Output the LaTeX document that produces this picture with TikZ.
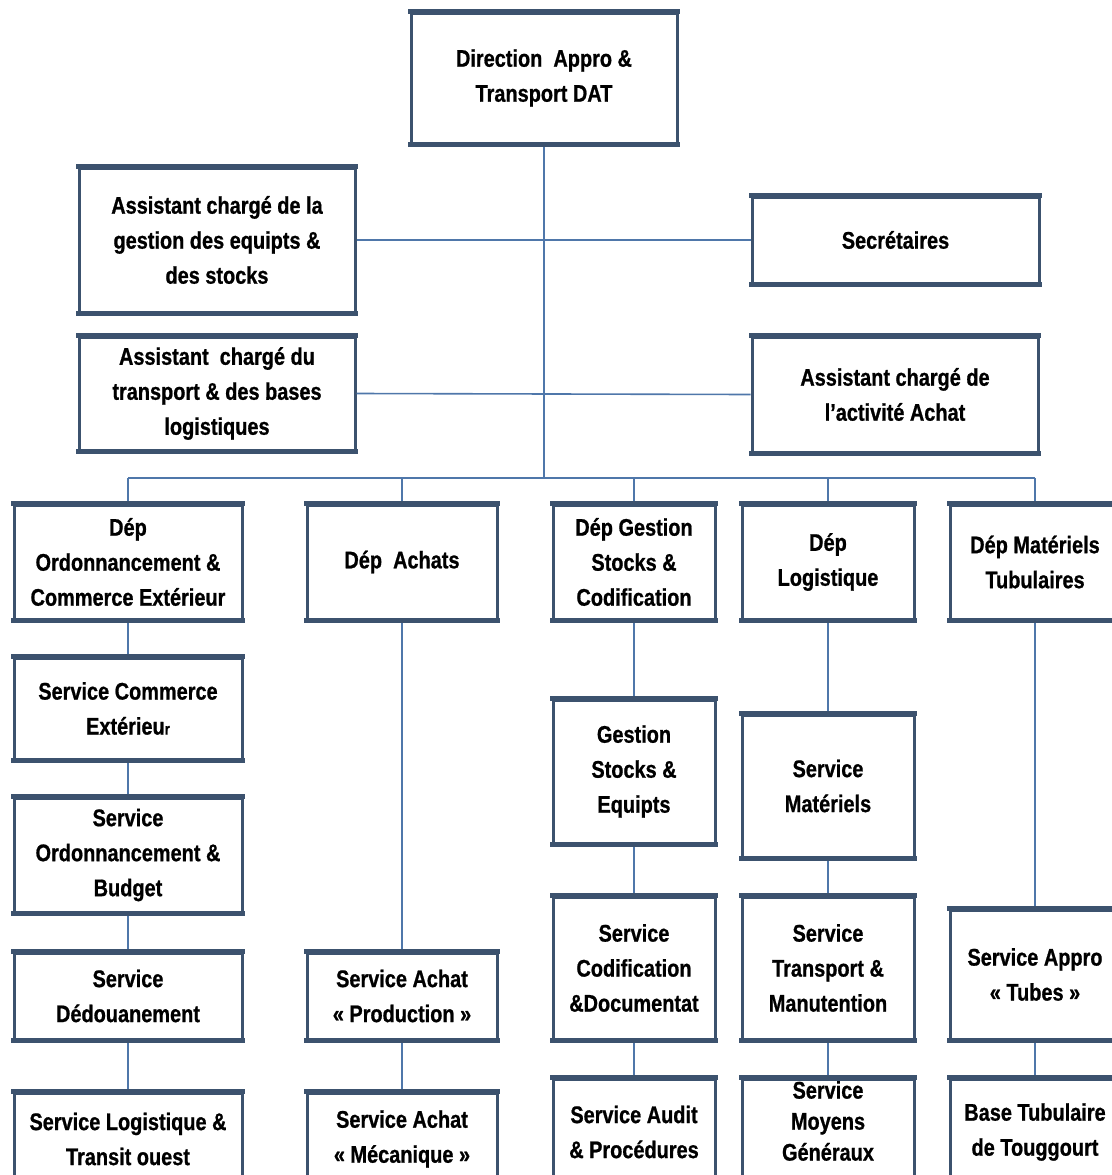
\documentclass[tikz,border=0pt]{standalone}
\usepackage{fontspec}
\setmainfont[FakeStretch=0.83,BoldFeatures={FakeBold=0.8}]{Liberation Sans}
\definecolor{boxc}{RGB}{60,82,110}
\definecolor{linec}{RGB}{79,119,170}
\begin{document}
\begin{tikzpicture}[x=1pt,y=-1pt,
  box/.style={draw=boxc, line width=3pt, fill=white, inner sep=2pt, align=center,
    font=\bfseries\fontsize{24}{35}\selectfont},
  txt/.style={inner sep=0pt, align=center, font=\bfseries\fontsize{24}{31}\selectfont},
  conn/.style={draw=linec, line width=1.6pt}]
\useasboundingbox (0,0) rectangle (1111,1175);
\coordinate (bus) at (544,478);
\coordinate (busL) at (128,478);
\coordinate (busR) at (1035,478);
% top level
\node[box, minimum width=266, minimum height=130] (top) at (544,78) {Direction \ Appro \&\\Transport DAT};
\node[box, minimum width=276, minimum height=144] (a1) at (217,240) {Assistant chargé de la\\gestion des equipts \&\\des stocks};
\node[box, minimum width=287, minimum height=86] (sec) at (895.5,240) {Secrétaires};
\node[box, minimum width=276, minimum height=113] (a2) at (217,393.5) {Assistant \ chargé du\\transport \& des bases\\logistiques};
\node[box, minimum width=286, minimum height=115] (aa) at (895,394.5) {Assistant chargé de\\l’activité Achat};
% departments
\node[box, minimum width=228, minimum height=114] (d1) at (128,562) {Dép\\Ordonnancement \&\\Commerce Extérieur};
\node[box, minimum width=190, minimum height=114] (d2) at (402,562) {Dép \ Achats};
\node[box, minimum width=162, minimum height=114] (d3) at (634,562) {Dép Gestion\\Stocks \&\\Codification};
\node[box, minimum width=172, minimum height=114] (d4) at (828,562) {Dép\\Logistique};
\node[box, minimum width=170, minimum height=114] (d5) at (1035,562) {Dép Matériels\\Tubulaires};
% column 1
\node[box, minimum width=228, minimum height=101] (s11) at (128,708.5) {Service Commerce\\Extérieu{\fontsize{16}{35}\selectfont r}};
\node[box, minimum width=228, minimum height=114] (s12) at (128,855) {Service\\Ordonnancement \&\\Budget};
\node[box, minimum width=228, minimum height=86] (s13) at (128,996) {Service\\Dédouanement};
\node[box, minimum width=228, minimum height=92] (s14) at (128,1139) {Service Logistique \&\\Transit ouest};
% column 2
\node[box, minimum width=190, minimum height=86] (s21) at (402,996) {Service Achat\\« Production »};
\node[box, minimum width=190, minimum height=92] (s22) at (402,1139) {Service Achat\\« Mécanique »};
% column 3
\node[box, minimum width=162, minimum height=143] (s31) at (634,771.5) {Gestion\\Stocks \&\\Equipts};
\node[box, minimum width=162, minimum height=142] (s32) at (634,968) {Service\\Codification\\\&Documentat};
\node[box, minimum width=162, minimum height=106] (s33) at (634,1132) {Service Audit\\\& Procédures};
% column 4
\node[box, minimum width=172, minimum height=142] (s41) at (828,786) {Service\\Matériels};
\node[box, minimum width=172, minimum height=142] (s42) at (828,968) {Service\\Transport \&\\Manutention};
\node[box, minimum width=172, minimum height=106] (s43) at (828,1132) {};
\node[txt] (s43t) at ([yshift=11pt]s43.center) {Service\\Moyens\\Généraux};
% column 5
\node[box, minimum width=170, minimum height=129] (s51) at (1035,974.5) {Service Appro\\« Tubes »};
\node[box, minimum width=170, minimum height=106] (s52) at (1035,1132) {Base Tubulaire\\de Touggourt};
% thicker top and bottom edges
\foreach \n in {top,a1,sec,a2,aa,d1,d2,d3,d4,d5,s11,s12,s13,s14,s21,s22,s31,s32,s33,s41,s42,s43,s51,s52}{
  \draw[boxc, line width=5pt] ([xshift=-1.5pt]\n.north west) -- ([xshift=1.5pt]\n.north east);
  \draw[boxc, line width=5pt] ([xshift=-1.5pt]\n.south west) -- ([xshift=1.5pt]\n.south east);
}
% connectors
\draw[conn] ([yshift=-2.5pt]top.south) -- (bus);
\draw[conn] (a1.east) -- (sec.west);
\draw[conn] (a2.east) -- (aa.west);
\draw[conn] (busL) -- (busR);
\draw[conn] (busL) -- ([yshift=2.5pt]d1.north);
\draw[conn] (402,478) -- ([yshift=2.5pt]d2.north);
\draw[conn] (634,478) -- ([yshift=2.5pt]d3.north);
\draw[conn] (828,478) -- ([yshift=2.5pt]d4.north);
\draw[conn] (busR) -- ([yshift=2.5pt]d5.north);
\draw[conn] ([yshift=-2.5pt]d1.south) -- ([yshift=2.5pt]s11.north);
\draw[conn] ([yshift=-2.5pt]s11.south) -- ([yshift=2.5pt]s12.north);
\draw[conn] ([yshift=-2.5pt]s12.south) -- ([yshift=2.5pt]s13.north);
\draw[conn] ([yshift=-2.5pt]s13.south) -- ([yshift=2.5pt]s14.north);
\draw[conn] ([yshift=-2.5pt]d2.south) -- ([yshift=2.5pt]s21.north);
\draw[conn] ([yshift=-2.5pt]s21.south) -- ([yshift=2.5pt]s22.north);
\draw[conn] ([yshift=-2.5pt]d3.south) -- ([yshift=2.5pt]s31.north);
\draw[conn] ([yshift=-2.5pt]s31.south) -- ([yshift=2.5pt]s32.north);
\draw[conn] ([yshift=-2.5pt]s32.south) -- ([yshift=2.5pt]s33.north);
\draw[conn] ([yshift=-2.5pt]d4.south) -- ([yshift=2.5pt]s41.north);
\draw[conn] ([yshift=-2.5pt]s41.south) -- ([yshift=2.5pt]s42.north);
\draw[conn] ([yshift=-2.5pt]s42.south) -- ([yshift=2.5pt]s43.north);
\draw[conn] ([yshift=-2.5pt]d5.south) -- ([yshift=2.5pt]s51.north);
\draw[conn] ([yshift=-2.5pt]s51.south) -- ([yshift=2.5pt]s52.north);
\end{tikzpicture}
\end{document}
